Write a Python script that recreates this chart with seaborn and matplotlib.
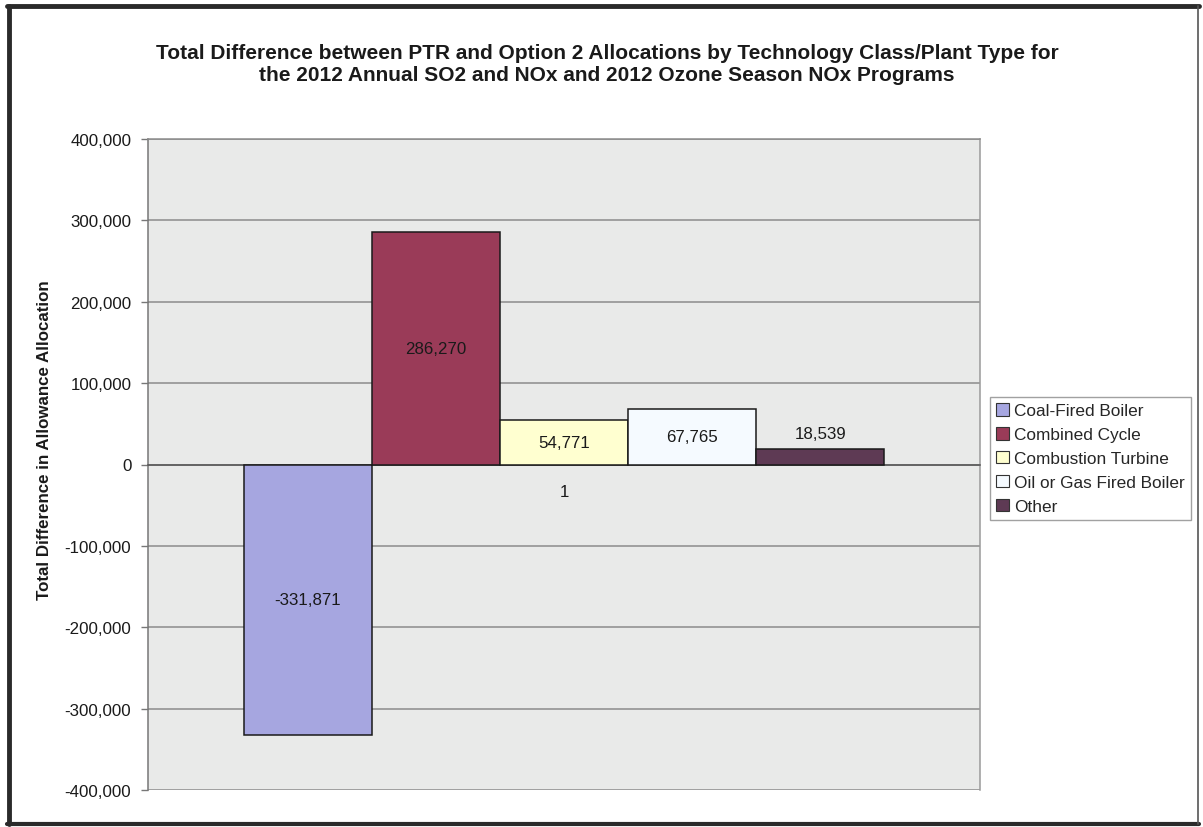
import matplotlib
matplotlib.use("Agg")
import matplotlib.pyplot as plt
from matplotlib.lines import Line2D
import seaborn as sns
import pandas as pd

# Plant-type allocation differences (PTR minus Option 2)
plant_types = ["Coal-Fired Boiler", "Combined Cycle", "Combustion Turbine",
               "Oil or Gas Fired Boiler", "Other"]
differences = [-331871, 286270, 54771, 67765, 18539]
category = ["1"] * len(plant_types)
bar_colors = ["#a6a6e0", "#9a3b58", "#ffffd0", "#f5faff", "#5e3a54"]
y_ticks = [-400000, -300000, -200000, -100000, 0, 100000, 200000, 300000, 400000]

title = ("Total Difference between PTR and Option 2 Allocations by Technology Class/Plant Type for\n"
         "the 2012 Annual SO2 and NOx and 2012 Ozone Season NOx Programs")
y_label = "Total Difference in Allowance Allocation"

df = pd.DataFrame({"cat": category, "type": plant_types, "value": differences})

sns.set_theme(style="white")
plt.rcParams["font.family"] = ["Liberation Sans", "DejaVu Sans"]

W, H = 1203, 828
fig = plt.figure(figsize=(W / 100, H / 100), dpi=100)
fig.patch.set_facecolor("white")
ax = fig.add_axes([148 / W, 1 - 791 / H, 832 / W, 651 / H])
ax.set_facecolor("#e9eae9")

sns.barplot(data=df, x="cat", y="value", hue="type", hue_order=plant_types,
            palette=bar_colors, edgecolor="#1a1a1a", linewidth=1.1,
            width=0.77, saturation=1, ax=ax, zorder=3)

ax.set_ylim(-400000, 400000)
ax.set_yticks(y_ticks)
ax.set_yticklabels([f"{t:,}" for t in y_ticks], fontsize=12.2, color="#1a1a1a")
ax.set_xlim(-0.5, 0.5)
ax.yaxis.grid(True, color="#8c8c8c", linewidth=1.1, zorder=0)
ax.set_axisbelow(True)
ax.set_xlabel("")
ax.set_ylabel("")

ax.tick_params(axis="y", direction="out", length=5, width=1, color="#777777", pad=7, left=True)
ax.tick_params(axis="x", length=0, pad=14, labelsize=12.2, labelcolor="#1a1a1a")

ax.spines["bottom"].set_position(("data", 0))
ax.spines["bottom"].set_color("#555555")
ax.spines["left"].set_color("#777777")
ax.spines["right"].set_color("#9a9a9a")
ax.spines["top"].set_color("#8c8c8c")
for s in ax.spines.values():
    s.set_linewidth(1.1)

# value labels
for cont, val in zip(ax.containers, differences):
    if abs(val) < 30000:
        ax.bar_label(cont, labels=[f"{val:,}"], label_type="edge", padding=6,
                     fontsize=12.2, color="#1a1a1a")
    else:
        ax.bar_label(cont, labels=[f"{val:,}"], label_type="center",
                     fontsize=12.2, color="#1a1a1a")

# legend as square swatches in a framed box
sns.move_legend(ax, loc="upper left", bbox_to_anchor=(990 / W, 1 - 398 / H),
                bbox_transform=fig.transFigure, title=None, frameon=True,
                fontsize=12.4, handlelength=0.75, handleheight=0.75,
                handletextpad=0.3, labelspacing=0.5, borderpad=0.35,
                borderaxespad=0, fancybox=False)
leg = ax.get_legend()
leg.get_frame().set_edgecolor("#8a8a8a")
leg.get_frame().set_linewidth(1)
for h in leg.legend_handles:
    h.set_edgecolor("#333333")
    h.set_linewidth(0.8)

fig.text(607 / W, 1 - 64.5 / H, title, ha="center", va="center", fontsize=15,
         fontweight="bold", color="#1a1a1a", linespacing=1.25)
fig.text(45 / W, 1 - 440 / H, y_label, ha="center", va="center", rotation=90,
         fontsize=12.2, fontweight="bold", color="#1a1a1a")

# chart frame
fig.add_artist(Line2D([9 / W, 9 / W], [1 - 7 / H, 1 - 825 / H], color="#2a2a2a", lw=3.5, transform=fig.transFigure))
fig.add_artist(Line2D([7 / W, 1199 / W], [1 - 7 / H, 1 - 7 / H], color="#2a2a2a", lw=3.5, transform=fig.transFigure))
fig.add_artist(Line2D([7 / W, 1199 / W], [1 - 825 / H, 1 - 825 / H], color="#2a2a2a", lw=3, transform=fig.transFigure))
fig.add_artist(Line2D([1198 / W, 1198 / W], [1 - 7 / H, 1 - 825 / H], color="#555555", lw=1.2, transform=fig.transFigure))

fig.savefig("out.png", dpi=100)
